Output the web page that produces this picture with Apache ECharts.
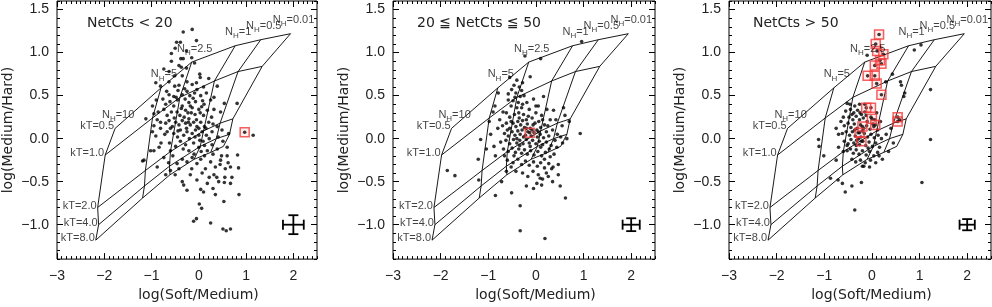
<!DOCTYPE html>
<html><head><meta charset="utf-8">
<script src="https://cdn.jsdelivr.net/npm/echarts@6/dist/echarts.min.js"></script>
<style>html,body{margin:0;padding:0;background:#fff}#c{width:992px;height:307px}</style>
</head><body><div id="c"></div>
<script>
// ---------- axis ticks ----------
const xTicks = [-3, -2, -1, 0, 1, 2];
const yTicks = [-1.0, -0.5, 0.0, 0.5, 1.0, 1.5];
const xRange = [-3, 2.5];
const yRange = [-1.4, 1.6];

// ---------- model grid (nodes ordered NH = 10, 5, 2.5, 1, 0.5, 0.01) ----------
const nhLabels = ['10', '5', '2.5', '1', '0.5', '0.01'];
const kTLabels = ['kT=0.5', 'kT=1.0', 'kT=2.0', 'kT=4.0', 'kT=8.0'];
const modelKT05 = [[-1.77, 0.12], [-0.80, 0.59], [-0.15, 0.89], [0.77, 1.08], [1.31, 1.15], [1.94, 1.22]];
const modelKT1  = [[-1.98, -0.19], [-0.98, 0.24], [-0.40, 0.48], [0.33, 0.67], [0.83, 0.78], [1.34, 0.84]];
const modelKT2  = [[-2.14, -0.80], [-1.13, -0.37], [-0.60, -0.15], [0.10, 0.09], [0.45, 0.18], [0.72, 0.23]];
const modelKT4  = [[-2.12, -1.00], [-1.15, -0.55], [-0.62, -0.32], [0.03, -0.09], [0.37, 0.00], [0.65, 0.05]];
const modelKT8  = [[-2.18, -1.18], [-1.19, -0.69], [-0.61, -0.42], [-0.10, -0.24], [0.25, -0.16], [0.52, -0.09]];

// ---------- panel titles ----------
const panelTitles = ['NetCts < 20', '20 \u2266 NetCts \u2266 50', 'NetCts > 50'];

// ---------- sources ----------
const panel1Points = [
[-0.33,1.24],[-0.14,1.27],[-0.47,1.12],[-0.39,1.12],[-0.05,1.14],[-0.58,0.99],[-0.38,0.93],[-0.33,0.93],[-0.15,0.94],[-0.42,0.85],[-0.09,0.88],[-0.74,0.81],[-0.63,0.78],[-0.37,0.83],[-0.26,0.82],[-0.51,0.73],[-0.35,0.73],[0.02,0.75],[0.03,0.71],[-0.91,0.65],[-0.81,0.61],[-0.63,0.66],[-0.51,0.61],[-0.25,0.66],[-0.14,0.63],[0.21,0.70],[0.39,0.61],[-0.44,0.56],[-0.30,0.58],[-0.04,0.57],[-0.63,0.51],[-0.53,0.49],[-0.35,0.51],[-0.19,0.50],[-0.09,0.53],[0.04,0.50],[0.16,0.53],[0.32,0.48],[0.54,0.41],[0.81,0.41],
[-0.98,0.38],[-1.12,0.23],[-0.95,0.29],[-0.88,0.22],[-0.74,0.34],[-0.67,0.27],[-0.53,0.38],[-0.46,0.31],[-0.35,0.38],[-0.28,0.33],[-0.21,0.42],[-0.14,0.36],[-0.07,0.43],[0.00,0.34],[0.11,0.40],[0.18,0.33],[0.32,0.34],[0.46,0.31],
[-0.81,0.19],[-0.70,0.18],[-0.63,0.21],[-0.56,0.14],[-0.49,0.19],[-0.42,0.16],[-0.35,0.21],[-0.28,0.18],[-0.21,0.23],[-0.18,0.16],[-0.11,0.19],[-0.04,0.14],[0.04,0.19],[0.12,0.14],[0.21,0.19],
[-0.81,0.12],[-0.67,0.08],[-0.53,0.06],[-0.39,0.10],[-0.32,0.04],[-0.25,0.08],[-0.14,0.06],[-0.07,0.10],[0.00,0.04],[0.07,0.08],[0.16,0.04],[0.28,0.08],[0.39,0.14],[0.49,0.10],[0.63,0.06],[-0.98,0.08],[-0.91,0.03],
[-1.16,-0.25],[-0.95,-0.14],[-0.84,-0.10],[-0.74,-0.22],[-0.60,-0.14],[-0.49,-0.09],[-0.39,-0.03],[-0.28,-0.07],[-0.21,-0.14],[-0.11,-0.05],[0.00,-0.10],[0.09,-0.03],[0.18,-0.14],[0.28,-0.07],[0.39,-0.12],[0.51,-0.03],[0.60,-0.10],
[-0.88,-0.33],[-0.70,-0.42],[-0.60,-0.37],[-0.46,-0.29],[-0.35,-0.24],[-0.25,-0.27],[-0.14,-0.22],[-0.04,-0.29],[0.04,-0.24],[0.14,-0.35],[0.25,-0.27],[0.35,-0.33],[0.46,-0.25],[0.56,-0.35],[0.67,-0.33],[0.82,-0.19],[0.84,-0.34],
[-0.35,-0.50],[-0.32,-0.54],[-0.18,-0.42],[-0.04,-0.48],[0.07,-0.40],[0.18,-0.52],[0.32,-0.42],[0.42,-0.50],[0.54,-0.51],[0.67,-0.52],[0.04,-0.59],[0.35,-0.65],[0.53,-0.73],[0.85,-0.65],
[0.01,-0.76],[0.06,-0.81],[-0.11,-0.96],[-0.05,-0.93],[0.25,-0.98],[0.51,-1.05],[0.58,-1.07],[0.67,-1.05],
[-1.19,-0.26],[-1.02,-0.14],[1.15,0.04],
[-0.76,0.46],[-0.61,0.43],[-0.45,0.45],[-0.29,0.46],[-0.12,0.47],[0.08,0.44],[0.25,0.45],[-0.86,0.31],[-0.58,0.31],[-0.40,0.27],[-0.23,0.30],[-0.08,0.28],[0.10,0.27],[0.27,0.25],[-0.72,0.05],[-0.45,0.02],[-0.20,0.00],[0.02,-0.02],[0.22,0.00],[0.41,0.02],[-0.62,-0.05],[-0.33,-0.12],[-0.10,-0.18],[0.12,-0.20],[0.30,-0.18],[0.48,-0.20],[-0.55,-0.20],[-0.80,-0.05],[-0.26,0.12],[-0.05,0.22],[0.30,0.17],[-0.37,0.35],[-0.16,0.30],[0.03,0.30],[-0.48,0.48],[-0.68,0.55],[-0.25,0.55],[0.10,0.60],[-0.42,0.62],[-0.05,0.65],[-0.60,0.12],[0.15,0.12],[-0.95,0.15],[-0.50,-0.42],[0.22,-0.45],[0.45,-0.30],[-0.15,-0.35],[0.05,-0.15],[0.60,-0.20],[0.70,-0.45],[0.30,-0.58],[0.10,-0.62],[-0.25,-0.60],[-0.70,0.40],[-0.52,0.24],[-0.31,0.25],[-0.18,0.38],[0.06,0.37],[-0.44,0.09],[-0.22,0.19],[0.00,0.12],[-0.08,0.02],[0.12,-0.08],[-0.64,-0.28],[-0.42,-0.35],[0.38,-0.45],[0.55,-0.45],[0.62,-0.28],[-0.90,0.45],[-0.58,0.90],[-0.26,1.02],[-0.50,1.05]
];
const panel1Flagged = [[0.97, 0.075]];

const panel2Points = [
[-0.23,0.96],[0.10,0.93],[0.96,1.13],[-0.55,0.71],[-0.12,0.72],[-0.79,0.53],[-0.51,0.57],[-0.42,0.53],[-0.33,0.49],[-0.44,0.48],[-0.30,0.56],[-0.19,0.42],[-0.05,0.46],[0.05,0.38],[0.16,0.49],[0.23,0.34],[0.37,0.33],[0.58,0.36],[0.61,0.27],[-0.86,0.38],[-0.90,0.31],[-0.69,0.31],
[-0.48,0.44],[-0.37,0.42],[-0.40,0.36],[-0.28,0.40],[-0.52,0.38],[-0.58,0.45],[-0.35,0.60],[-0.46,0.62],[-0.25,0.50],[-0.62,0.30],[-0.14,0.34],[0.00,0.30],[0.12,0.27],[0.30,0.22],[-0.76,0.22],[-0.80,0.12],[-0.55,0.25],[-0.45,0.28],[-0.36,0.30],[-0.26,0.28],[-0.20,0.22],[-0.08,0.24],[0.06,0.20],[0.18,0.16],
[-0.70,0.15],[-0.62,0.18],[-0.55,0.12],[-0.48,0.18],[-0.42,0.14],[-0.38,0.20],[-0.32,0.16],[-0.28,0.21],[-0.24,0.13],[-0.18,0.17],[-0.12,0.12],[-0.06,0.16],[0.02,0.10],[0.10,0.13],[0.22,0.08],[0.35,0.10],[0.45,0.05],
[-0.66,0.06],[-0.58,0.03],[-0.50,0.08],[-0.44,0.04],[-0.38,0.09],[-0.33,0.05],[-0.29,0.10],[-0.22,0.04],[-0.17,0.08],[-0.10,0.03],[-0.04,0.07],[0.03,0.02],[0.09,0.05],[0.16,0.01],[0.27,0.03],[0.40,-0.02],[0.52,0.02],[0.65,0.00],[0.93,0.06],
[-0.74,-0.04],[-0.63,-0.02],[-0.55,-0.06],[-0.47,-0.01],[-0.40,-0.05],[-0.34,-0.02],[-0.27,-0.06],[-0.20,-0.01],[-0.14,-0.05],[-0.07,-0.02],[0.00,-0.06],[0.07,-0.03],[0.14,-0.07],[0.22,-0.04],[0.32,-0.08],[0.44,-0.10],[0.56,-0.05],
[-0.68,-0.12],[-0.58,-0.15],[-0.50,-0.11],[-0.43,-0.16],[-0.36,-0.12],[-0.30,-0.17],[-0.24,-0.13],[-0.18,-0.18],[-0.11,-0.14],[-0.04,-0.19],[0.04,-0.15],[0.12,-0.20],[0.20,-0.16],[0.30,-0.21],[0.38,-0.18],
[-0.60,-0.25],[-0.48,-0.28],[-0.38,-0.24],[-0.30,-0.30],[-0.22,-0.26],[-0.14,-0.31],[-0.05,-0.27],[0.03,-0.32],[0.10,-0.28],[0.18,-0.34],[0.27,-0.29],[0.36,-0.33],[0.47,-0.30],
[-0.42,-0.38],[-0.28,-0.40],[-0.17,-0.44],[-0.06,-0.38],[0.05,-0.42],[0.14,-0.47],[0.22,-0.40],
[-1.86,-0.37],[-1.70,-0.43],[-1.21,-0.24],[-1.16,-0.01],[-1.20,-0.48],[-1.04,-0.12],[-0.88,-0.09],[-0.72,-0.50],[-0.85,-0.66],[-0.51,-0.63],[-0.33,-0.78],[-0.33,-1.07],[0.19,-1.16],[-0.05,-0.58],[0.09,-0.46],[0.12,-0.54],[0.26,-0.44],[0.33,-0.35],[0.47,-0.42],[0.51,-0.55],[0.62,-0.69],[-0.95,0.05],[-0.85,-0.20],[-0.98,0.20],[0.70,0.20],[0.55,0.15],[-0.62,-0.38],[0.02,-0.52],[-0.20,-0.55],[0.35,-0.50],
[-0.52,0.20],[-0.35,0.24],[-0.16,0.26],[-0.02,0.18],[0.14,0.22],[-0.60,0.10],[-0.26,0.02],[-0.12,-0.09],[0.10,-0.10],[-0.46,-0.20],[-0.34,-0.08],[-0.08,0.10],[0.05,0.08],[0.25,0.15],[-0.66,-0.20],[-0.40,0.00],[-0.20,0.12],[0.18,-0.24],[-0.52,-0.33],[0.00,0.38],[-0.30,0.36],[-0.58,0.52],[-0.40,0.68],[-0.28,0.65],[0.28,-0.12],[0.42,0.22]
];
const panel2Flagged = [[-0.13, 0.07]];

const panel3Points = [
[0.89,1.03],[1.03,1.09],[1.23,0.57],[0.43,0.75],[0.60,0.66],[0.62,0.62],[0.67,0.49],[1.23,-0.01],[1.05,-0.51],[0.29,0.66],[-0.10,0.97],[-1.12,-0.01],[-1.11,-0.09],[-1.01,-0.20],[-0.75,-0.25],[-0.87,-0.46],[-0.71,-0.48],[-0.62,-0.52],[-0.56,-0.62],[-0.42,-0.55],[-0.22,-0.51],[-0.36,-0.83],[-0.20,-0.32],[0.22,-0.24],[-0.52,0.41],[0.69,0.53],[0.58,0.22],[0.40,0.12],[0.30,0.05],[0.45,-0.05],[0.35,-0.15],[0.15,-0.20],[-0.03,-0.25],[-0.17,-0.32],[-0.65,0.20],[-0.70,-0.10],[-0.60,-0.15],
[-0.55,0.32],[-0.45,0.34],[-0.38,0.30],[-0.30,0.33],[-0.22,0.28],[-0.15,0.31],[-0.48,0.25],[-0.40,0.22],[-0.33,0.26],[-0.26,0.22],[-0.18,0.24],[-0.10,0.20],[-0.02,0.25],[0.06,0.22],[-0.58,0.15],[-0.50,0.18],[-0.44,0.13],[-0.37,0.17],[-0.31,0.12],[-0.24,0.16],[-0.17,0.12],[-0.11,0.15],[-0.04,0.11],[0.04,0.14],[0.12,0.10],
[-0.62,0.06],[-0.54,0.08],[-0.47,0.04],[-0.41,0.08],[-0.35,0.03],[-0.29,0.07],[-0.23,0.02],[-0.16,0.06],[-0.09,0.02],[-0.02,0.05],[0.05,0.01],[0.13,0.04],[0.20,0.00],
[-0.58,-0.03],[-0.50,-0.06],[-0.44,-0.01],[-0.38,-0.05],[-0.32,-0.02],[-0.26,-0.07],[-0.19,-0.03],[-0.13,-0.08],[-0.06,-0.04],[0.01,-0.09],[0.08,-0.05],[0.16,-0.10],
[-0.52,-0.14],[-0.45,-0.12],[-0.39,-0.17],[-0.33,-0.13],[-0.27,-0.18],[-0.20,-0.14],[-0.12,-0.19],[-0.05,-0.15],[0.04,-0.20],[0.12,-0.16],
[-0.42,-0.24],[-0.34,-0.27],[-0.24,-0.25],[-0.14,-0.28],[-0.05,-0.33],[0.08,-0.28],
[-0.36,0.10],[-0.28,0.00],[-0.20,0.09],[-0.12,0.27],[-0.42,0.28],[-0.52,-0.08],[-0.33,-0.08],[-0.08,-0.11],[0.02,0.17],[-0.25,0.30],[-0.60,0.25],[-0.70,0.05],[-0.75,0.12],[0.10,0.30],[0.18,0.20],[-0.46,0.40],[-0.36,0.38],[-0.26,0.40],[-0.15,0.40]
];
const panel3Flagged = [[0.15,1.21],[0.08,1.10],[0.11,1.02],[0.24,0.98],[0.17,0.91],[0.20,0.87],[0.06,0.85],[-0.09,0.73],[0.06,0.73],[0.10,0.64],[0.20,0.51],[-0.12,0.36],[-0.02,0.36],[0.00,0.23],[0.07,0.16],[0.54,0.25],[0.54,0.20],[-0.20,0.14],[-0.26,0.07],[-0.22,-0.03]];

// ---------- typical error bars (center, x half-width, y half-height) ----------
const errCenter = [2.0, -1.0];
const errHalfX = [0.22, 0.18, 0.16];
const errHalfY = [0.11, 0.075, 0.065];

// ---------- build ----------
const modelRows = [modelKT05, modelKT1, modelKT2, modelKT4, modelKT8];
const modelCols = nhLabels.map((_, j) => modelRows.map(r => r[j]));
const panelPoints = [panel1Points, panel2Points, panel3Points];
const panelFlagged = [panel1Flagged, panel2Flagged, panel3Flagged];

function steps(a, b, s) { const out = []; for (let k = Math.round(a / s); k <= Math.round(b / s); k++) out.push(+(k * s).toFixed(2)); return out; }
const xMinor = steps(xRange[0], xRange[1], 0.1).filter(v => !xTicks.some(t => Math.abs(t - v) < 1e-6));
const yMinor = steps(yRange[0], yRange[1], 0.1).filter(v => !yTicks.some(t => Math.abs(t - v) < 1e-6));

const gridLayout = [{left: 56, width: 261}, {left: 393, width: 262}, {left: 729, width: 262}];
const titleLeft = [87, 417, 753];
const fmtNum = (v, d) => (v < 0 ? '\u2212' : '') + Math.abs(v).toFixed(d);

const grids = [], xAxes = [], yAxes = [], series = [], titles = [];
const tickColor = '#000';
const noLine = {show: false, onZero: false};
gridLayout.forEach((g, i) => {
  grids.push({left: g.left, width: g.width, top: 1, height: 268, show: true, borderColor: '#000', borderWidth: 1, backgroundColor: 'transparent'});
  titles.push({text: panelTitles[i], left: titleLeft[i], top: 16, padding: 0,
    textStyle: {fontFamily: 'DejaVu Sans', fontSize: 14, fontWeight: 'normal', color: '#222'}});
  const baseX = {type: 'value', gridIndex: i, min: xRange[0], max: xRange[1], splitLine: {show: false}, axisLine: noLine};
  const baseY = {type: 'value', gridIndex: i, min: yRange[0], max: yRange[1], splitLine: {show: false}, axisLine: noLine};
  xAxes.push(Object.assign({}, baseX, {position: 'bottom',
    name: 'log(Soft/Medium)', nameLocation: 'middle', nameGap: 23,
    nameTextStyle: {fontFamily: 'DejaVu Sans', fontSize: 14, color: '#222', padding: [0, 0, 0, 23]},
    axisTick: {show: true, inside: true, length: 6, customValues: xTicks, lineStyle: {color: tickColor}},
    axisLabel: {show: true, customValues: xTicks, margin: 10, fontFamily: 'Liberation Sans', fontSize: 14, color: '#222', formatter: v => fmtNum(v, 0)}}));
  xAxes.push(Object.assign({}, baseX, {position: 'bottom',
    axisTick: {show: true, inside: true, length: 3, customValues: xMinor, lineStyle: {color: tickColor}}, axisLabel: {show: false}}));
  xAxes.push(Object.assign({}, baseX, {position: 'top',
    axisTick: {show: true, inside: true, length: 6, customValues: xTicks, lineStyle: {color: tickColor}}, axisLabel: {show: false}}));
  xAxes.push(Object.assign({}, baseX, {position: 'top',
    axisTick: {show: true, inside: true, length: 3, customValues: xMinor, lineStyle: {color: tickColor}}, axisLabel: {show: false}}));
  yAxes.push(Object.assign({}, baseY, {position: 'left',
    name: 'log(Medium/Hard)', nameLocation: 'middle', nameGap: 42, nameRotate: 90,
    nameTextStyle: {fontFamily: 'DejaVu Sans', fontSize: 14, color: '#222'},
    axisTick: {show: true, inside: true, length: 6, customValues: yTicks, lineStyle: {color: tickColor}},
    axisLabel: {show: true, customValues: yTicks, margin: 8, fontFamily: 'Liberation Sans', fontSize: 14, color: '#222', formatter: v => fmtNum(v, 1)}}));
  yAxes.push(Object.assign({}, baseY, {position: 'left',
    axisTick: {show: true, inside: true, length: 3, customValues: yMinor, lineStyle: {color: tickColor}}, axisLabel: {show: false}}));
  yAxes.push(Object.assign({}, baseY, {position: 'right',
    axisTick: {show: true, inside: true, length: 6, customValues: yTicks, lineStyle: {color: tickColor}}, axisLabel: {show: false}}));
  yAxes.push(Object.assign({}, baseY, {position: 'right',
    axisTick: {show: true, inside: true, length: 3, customValues: yMinor, lineStyle: {color: tickColor}}, axisLabel: {show: false}}));

  const ax = {xAxisIndex: 4 * i, yAxisIndex: 4 * i};
  modelRows.concat(modelCols).forEach(line => {
    series.push(Object.assign({type: 'line', data: line, symbol: 'none', silent: true, z: 1,
      lineStyle: {color: '#000', width: 0.9}}, ax));
  });
  series.push(Object.assign({type: 'scatter', data: panelPoints[i], symbol: 'circle', symbolSize: 3.6, silent: true, z: 3,
    itemStyle: {color: '#000'}}, ax));
  series.push(Object.assign({type: 'scatter', data: panelFlagged[i], symbol: 'circle', symbolSize: 3.6, silent: true, z: 3,
    itemStyle: {color: '#000'}}, ax));
  series.push(Object.assign({type: 'scatter', data: panelFlagged[i], symbol: 'rect', symbolSize: 9, silent: true, z: 4,
    itemStyle: {color: 'rgba(255,60,60,0.10)', borderColor: '#f23a3a', borderWidth: 1.5}}, ax));
  // NH labels at kT=0.5 nodes
  series.push(Object.assign({type: 'scatter', data: modelKT05, symbolSize: 0, silent: true, z: 5,
    label: {show: true, position: 'top', distance: 0, offset: [3, 0],
      formatter: p => '{a|N}{s|H}{a|=' + nhLabels[p.dataIndex] + '}',
      rich: {a: {fontFamily: 'Liberation Sans', fontSize: 11, color: '#111', lineHeight: 12, verticalAlign: 'top'},
             s: {fontFamily: 'Liberation Sans', fontSize: 8, color: '#111', lineHeight: 19, verticalAlign: 'middle'}}}}, ax));
  // kT labels at NH=10 nodes
  series.push(Object.assign({type: 'scatter', data: modelCols[0], symbolSize: 0, silent: true, z: 5,
    label: {show: true, position: 'left', distance: 1, offset: [0, -2],
      formatter: p => kTLabels[p.dataIndex],
      fontFamily: 'Liberation Sans', fontSize: 11, color: '#111'}}, ax));
  // typical error bar
  series.push(Object.assign({type: 'custom', silent: true, z: 5,
    data: [[errCenter[0], errCenter[1], errHalfX[i], errHalfY[i]]],
    renderItem: (params, api) => {
      const x = api.value(0), y = api.value(1), ex = api.value(2), ey = api.value(3);
      const l = api.coord([x - ex, y]), r = api.coord([x + ex, y]);
      const t = api.coord([x, y + ey]), b = api.coord([x, y - ey]);
      const cap = 5, st = {stroke: '#000', lineWidth: 1.8};
      const seg = (x1, y1, x2, y2) => ({type: 'line', shape: {x1, y1, x2, y2}, style: st});
      return {type: 'group', children: [
        seg(l[0], l[1], r[0], r[1]), seg(t[0], t[1], b[0], b[1]),
        seg(l[0], l[1] - cap, l[0], l[1] + cap), seg(r[0], r[1] - cap, r[0], r[1] + cap),
        seg(t[0] - cap, t[1], t[0] + cap, t[1]), seg(b[0] - cap, b[1], b[0] + cap, b[1])
      ]};
    }}, ax));
});

const chart = echarts.init(document.getElementById('c'), null, {renderer: 'canvas'});
chart.setOption({animation: false, backgroundColor: '#fff', title: titles, grid: grids, xAxis: xAxes, yAxis: yAxes, series: series});
</script>
</body></html>
